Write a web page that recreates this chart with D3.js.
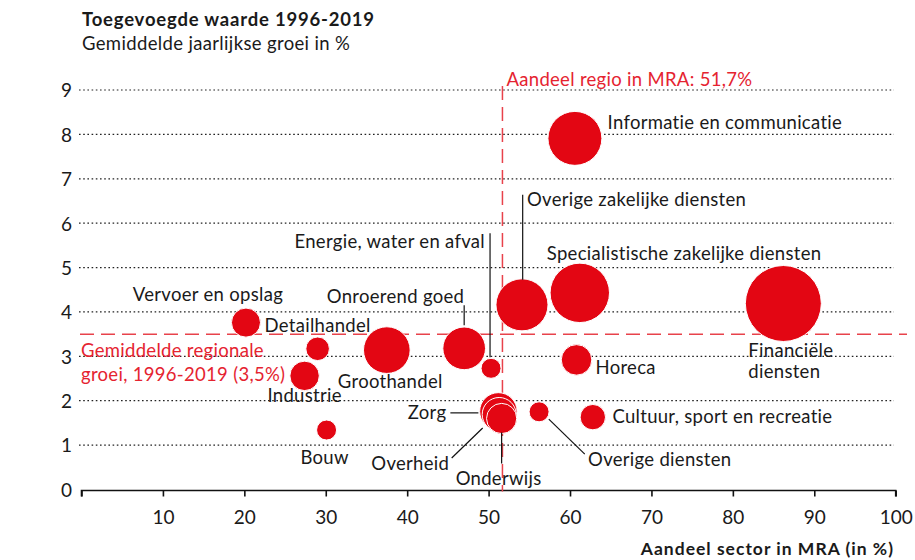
<!DOCTYPE html>
<html lang="nl">
<head>
<meta charset="utf-8">
<script src="https://cdn.jsdelivr.net/npm/d3@7"></script>
<style>
  html, body { margin: 0; padding: 0; background: #fff; }
  svg { display: block; font-family: Lato, "Noto Sans", sans-serif; }
</style>
</head>
<body>
<svg id="chart" width="915" height="560"></svg>
<script>
// Sectoren in de regio
const sectoren = [
  "Vervoer en opslag", "Detailhandel", "Industrie", "Bouw", "Groothandel",
  "Onroerend goed", "Energie, water en afval", "Zorg", "Overheid", "Onderwijs",
  "Overige zakelijke diensten", "Specialistische zakelijke diensten",
  "Financiële diensten", "Horeca", "Overige diensten",
  "Cultuur, sport en recreatie", "Informatie en communicatie"
];
// Aandeel van de sector in de MRA (%)
const aandeel = [20.2, 29.0, 27.4, 30.1, 37.5, 47.0, 50.3, 51.2, 51.3, 51.6,
                 54.1, 61.2, 86.2, 60.8, 56.2, 62.8, 60.6];
// Gemiddelde jaarlijkse groei toegevoegde waarde 1996-2019 (%)
const groei = [3.76, 3.17, 2.56, 1.34, 3.14, 3.18, 2.73, 1.76, 1.69, 1.60,
               4.16, 4.43, 4.19, 2.92, 1.75, 1.63, 7.91];
// Omvang van de sector (relatief, bepaalt de bolgrootte)
const omvang = [3.8, 2.5, 3.9, 1.8, 9.8, 8.2, 1.8, 6.3, 5.2, 4.1,
                12.2, 15.9, 26.0, 4.2, 1.8, 2.9, 13.1];

const xTicks = [10, 20, 30, 40, 50, 60, 70, 80, 90, 100];
const yTicks = [0, 1, 2, 3, 4, 5, 6, 7, 8, 9];
const regioAandeel = 51.7;
const regioGroei = 3.5;

// Labelplaatsing (pixels t.o.v. het middelpunt van de bol)
const labelPlaatsing = [
  { dx: -38, dy: -28, anchor: "middle" },
  { dx: 0, dy: -23, anchor: "middle" },
  { dx: 0, dy: 19, anchor: "middle" },
  { dx: -2, dy: 27, anchor: "middle" },
  { dx: -49, dy: 31, anchor: "start" },
  { dx: 0, dy: -52, anchor: "end", leader: [[0, -43], [0, -23]] },
  { dx: -6, dy: -127, anchor: "end", leader: [[-1, -135], [-1, -11]] },
  { dx: -52, dy: 0.5, anchor: "end", leader: [[-48, 1.5], [-20, 1.5]] },
  { dx: -50, dy: 48.5, anchor: "end", leader: [[-16.5, 13.5], [-47.5, 43.5]] },
  { dx: -3, dy: 60, anchor: "middle", leader: [[0, 14], [0, 45]] },
  { dx: 5, dy: -106, anchor: "start", leader: [[0.7, -110], [0.7, -25]] },
  { dx: -33, dy: -40, anchor: "start" },
  { dx: -35, dy: 46.5, anchor: "start", lines: ["Financiële", "diensten"] },
  { dx: 19, dy: 7, anchor: "start" },
  { dx: 49, dy: 47.6, anchor: "start", leader: [[9.7, 7.3], [45.7, 42.3]] },
  { dx: 19.6, dy: -0.6, anchor: "start" },
  { dx: 32.7, dy: -16, anchor: "start" }
];

const rood = "#e30613";
const roodLijn = "#e8424b";
const roodTekst = "#e52330";
const tekst = "#1a1a1a";
const tekstMaat = 18.5;
const tekstSpatie = 0.3;

const svg = d3.select("#chart");

const x = d3.scaleLinear().domain([0, 100]).range([81.5, 895.7]);
const y = d3.scaleLinear().domain([0, 9]).range([489.5, 90]);
const r = d3.scaleSqrt().domain([0, d3.max(omvang)]).range([0, 38]);

// Titel
svg.append("text").attr("x", 82).attr("y", 19).attr("dy", "0.36em")
  .attr("font-size", 18.5).attr("font-weight", 700).attr("letter-spacing", 0.8)
  .attr("fill", tekst)
  .text("Toegevoegde waarde 1996-2019");
svg.append("text").attr("x", 82).attr("y", 43).attr("dy", "0.36em")
  .attr("font-size", 18.5).attr("letter-spacing", 0.35).attr("fill", tekst)
  .text("Gemiddelde jaarlijkse groei in %");

// Gestippelde rasterlijnen
svg.append("g").selectAll("line")
  .data(yTicks.filter(d => d > 0))
  .join("line")
  .attr("x1", 79).attr("x2", 894)
  .attr("y1", d => y(d)).attr("y2", d => y(d))
  .attr("stroke", "#222").attr("stroke-width", 1.2)
  .attr("stroke-dasharray", "1.6,2.6");

// Y-as (alleen labels)
const yAxis = svg.append("g").attr("transform", "translate(72,0)")
  .call(d3.axisLeft(y).tickValues(yTicks).tickSize(0).tickPadding(0));
yAxis.select(".domain").remove();
yAxis.selectAll("text").attr("font-size", 19).attr("fill", tekst)
  .attr("font-family", "Lato, sans-serif").attr("dy", "0.36em");

// X-as
const xAxis = svg.append("g").attr("transform", `translate(0,${y(0) + 1})`)
  .call(d3.axisBottom(x).tickValues([0].concat(xTicks)).tickSize(6).tickPadding(14)
    .tickFormat(d => d === 0 ? "" : d));
xAxis.select(".domain").attr("stroke", "#111").attr("stroke-width", 1.6)
  .attr("d", `M${x(0)},6V0H${x(100)}V6`);
xAxis.selectAll(".tick line").attr("stroke", "#111").attr("stroke-width", 1.6);
xAxis.selectAll("text").attr("font-size", 19).attr("fill", tekst)
  .attr("font-family", "Lato, sans-serif");

svg.append("text").attr("x", 894).attr("y", 549).attr("dy", "0.36em")
  .attr("text-anchor", "end").attr("font-size", 17.5).attr("font-weight", 700)
  .attr("letter-spacing", 1)
  .attr("fill", tekst).text("Aandeel sector in MRA (in %)");

// Referentielijnen: regio-aandeel en gemiddelde groei
svg.append("line")
  .attr("x1", 80).attr("x2", 907)
  .attr("y1", y(regioGroei)).attr("y2", y(regioGroei))
  .attr("stroke", roodLijn).attr("stroke-width", 1.5)
  .attr("stroke-dasharray", "14,7");
svg.append("line")
  .attr("x1", x(regioAandeel)).attr("x2", x(regioAandeel))
  .attr("y1", 86).attr("y2", y(0) + 2)
  .attr("stroke", roodLijn).attr("stroke-width", 1.5)
  .attr("stroke-dasharray", "14,7");

svg.append("text").attr("x", x(regioAandeel) + 4).attr("y", y(9) - 11).attr("dy", "0.36em")
  .attr("font-size", tekstMaat).attr("letter-spacing", tekstSpatie).attr("fill", roodTekst)
  .text("Aandeel regio in MRA: 51,7%");
const gemLabel = svg.append("text").attr("font-size", tekstMaat)
  .attr("letter-spacing", tekstSpatie).attr("fill", roodTekst);
gemLabel.append("tspan").attr("x", 81).attr("y", y(regioGroei) + 16.6).attr("dy", "0.36em")
  .text("Gemiddelde regionale");
gemLabel.append("tspan").attr("x", 81).attr("y", y(regioGroei) + 40).attr("dy", "0.36em")
  .text("groei, 1996-2019 (3,5%)");

// Bollen, grootste eerst zodat kleinere erbovenop liggen
const data = sectoren.map((naam, i) => ({
  naam, x: aandeel[i], y: groei[i], omvang: omvang[i], plaats: labelPlaatsing[i]
}));
const gesorteerd = data.slice().sort((a, b) => b.omvang - a.omvang);

svg.append("g").selectAll("circle")
  .data(gesorteerd)
  .join("circle")
  .attr("cx", d => x(d.x)).attr("cy", d => y(d.y)).attr("r", d => r(d.omvang))
  .attr("fill", rood).attr("stroke", "#fff").attr("stroke-width", 1);

// Verbindingslijnen
svg.append("g").selectAll("line")
  .data(data.filter(d => d.plaats.leader))
  .join("line")
  .attr("x1", d => x(d.x) + d.plaats.leader[0][0])
  .attr("y1", d => y(d.y) + d.plaats.leader[0][1])
  .attr("x2", d => x(d.x) + d.plaats.leader[1][0])
  .attr("y2", d => y(d.y) + d.plaats.leader[1][1])
  .attr("stroke", "#111").attr("stroke-width", 1.2);

// Labels
const labels = svg.append("g").selectAll("text")
  .data(data)
  .join("text")
  .attr("font-size", tekstMaat).attr("letter-spacing", tekstSpatie).attr("fill", tekst)
  .attr("text-anchor", d => d.plaats.anchor);
labels.each(function (d) {
  const regels = d.plaats.lines || [d.naam];
  const t = d3.select(this);
  regels.forEach((regel, j) => {
    t.append("tspan")
      .attr("x", x(d.x) + d.plaats.dx)
      .attr("y", y(d.y) + d.plaats.dy + j * 21)
      .attr("dy", "0.36em")
      .text(regel);
  });
});
</script>
</body>
</html>
